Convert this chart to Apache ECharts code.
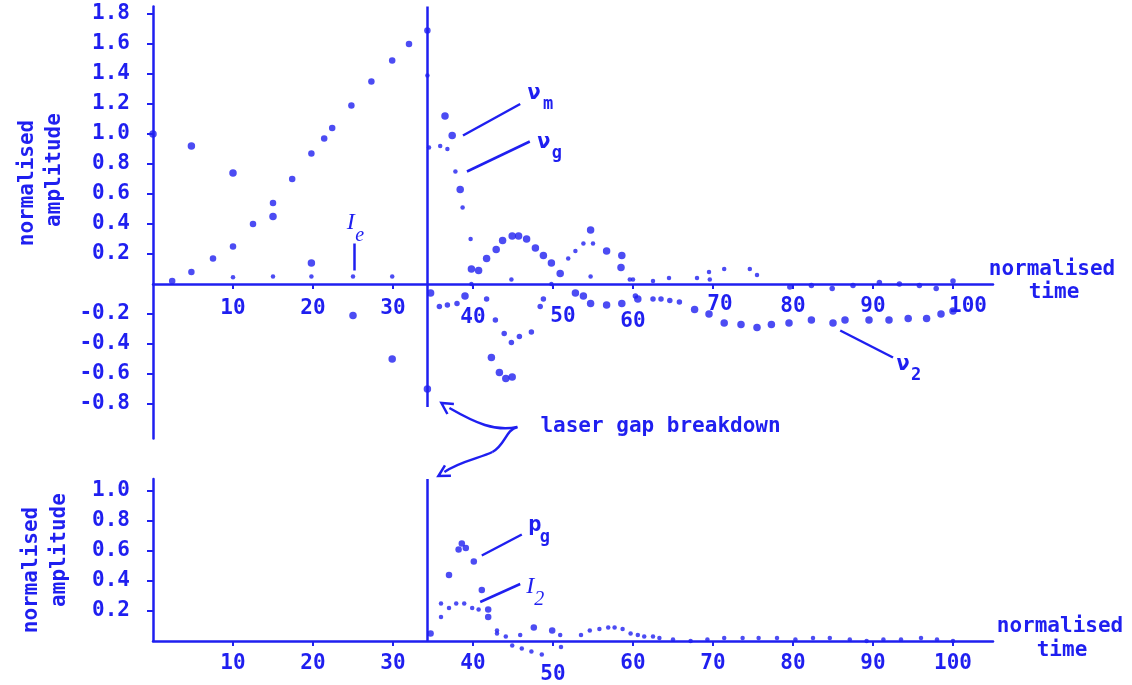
<!DOCTYPE html>
<html>
<head>
<meta charset="utf-8">
<script src="https://cdn.jsdelivr.net/npm/echarts@6/dist/echarts.min.js"></script>
<style>
html,body{margin:0;padding:0;background:#fff;}
#c{width:1132px;height:685px;}
</style>
</head>
<body>
<div id="c"></div>
<script>
// ---------------- DATA ----------------
const xTickValues = [10, 20, 30, 40, 50, 60, 70, 80, 90, 100];
const topYTickValues = [-0.8, -0.6, -0.4, -0.2, 0.2, 0.4, 0.6, 0.8, 1.0, 1.2, 1.4, 1.6, 1.8];
const botYTickValues = [0.2, 0.4, 0.6, 0.8, 1.0];
const breakdownTime = 34.3;

// top panel, before breakdown
const riseT = [2.4, 4.8, 7.5, 10, 12.5, 15, 17.4, 19.8, 21.4, 22.4, 24.8, 27.3, 29.9, 32, 34.3];
const riseV = [0.02, 0.08, 0.17, 0.25, 0.40, 0.54, 0.70, 0.87, 0.97, 1.04, 1.19, 1.35, 1.49, 1.60, 1.69];
const cosT = [0, 4.8, 10, 15, 19.8, 25, 29.9, 34.3];
const cosV = [1.0, 0.92, 0.74, 0.45, 0.14, -0.21, -0.50, -0.70];
const ieT = [10, 15, 19.8, 25, 29.9];
const ieV = [0.045, 0.05, 0.05, 0.05, 0.05];

// top panel, after breakdown
const upBigT = [36.5, 37.4, 38.4, 39.8, 40.7, 41.7, 42.9, 43.7, 44.9, 45.7, 46.7, 47.8, 48.8, 49.8, 50.9, 54.7, 56.7, 58.6, 58.5];
const upBigV = [1.12, 0.99, 0.63, 0.10, 0.09, 0.17, 0.23, 0.29, 0.32, 0.32, 0.30, 0.24, 0.19, 0.14, 0.07, 0.36, 0.22, 0.19, 0.11];
const upSmallT = [34.5, 35.9, 36.8, 37.8, 38.7, 39.7, 34.3, 51.9, 52.8, 53.8, 55.0, 59.6, 44.8, 54.7, 39.8, 49.8];
const upSmallV = [0.91, 0.92, 0.90, 0.75, 0.51, 0.30, 1.39, 0.17, 0.22, 0.27, 0.27, 0.03, 0.03, 0.05, 0.0, 0.0];
const lowBigT = [34.7, 39.0, 42.3, 43.3, 44.1, 44.9, 52.8, 53.8, 54.7, 56.7, 58.6, 60.6, 67.7, 69.5, 71.4, 73.5, 75.5, 77.3, 79.5, 82.3, 85, 86.5, 89.5, 92, 94.4, 96.7, 98.5, 100];
const lowBigV = [-0.06, -0.08, -0.49, -0.59, -0.63, -0.62, -0.06, -0.08, -0.13, -0.14, -0.13, -0.10, -0.17, -0.20, -0.26, -0.27, -0.29, -0.27, -0.26, -0.24, -0.26, -0.24, -0.24, -0.24, -0.23, -0.23, -0.20, -0.18];
const lowMedT = [35.8, 36.8, 38, 41.7, 42.8, 43.9, 44.8, 45.8, 47.3, 48.4, 48.8, 60.3, 62.5, 63.5, 64.6, 65.8];
const lowMedV = [-0.15, -0.14, -0.13, -0.10, -0.24, -0.33, -0.39, -0.35, -0.32, -0.15, -0.10, -0.08, -0.10, -0.10, -0.11, -0.12];
const posSmallT = [60, 62.5, 64.5, 68, 69.5, 69.6, 71.4, 74.6, 75.5];
const posSmallV = [0.03, 0.02, 0.04, 0.04, 0.08, 0.03, 0.10, 0.10, 0.06];
const baseT = [79.6, 82.3, 84.9, 87.5, 90.8, 93.3, 95.8, 97.9, 100];
const baseV = [-0.02, -0.01, -0.03, -0.01, 0.01, 0.0, -0.01, -0.03, 0.02];

// bottom panel
const pgT = [34.7, 37, 38.2, 38.6, 39.1, 40.1, 41.1, 41.9, 41.9, 47.6, 49.9];
const pgV = [0.05, 0.44, 0.61, 0.65, 0.62, 0.53, 0.34, 0.21, 0.16, 0.09, 0.07];
const i2T = [36, 36, 37, 37.9, 38.9, 39.9, 40.7, 43, 43, 44.1, 44.9, 45.9, 46.1, 47.3, 48.6, 50.9, 51, 53.5, 54.6, 55.8, 56.9, 57.7, 58.7, 59.7, 60.6, 61.4, 62.5];
const i2V = [0.25, 0.16, 0.22, 0.25, 0.25, 0.22, 0.21, 0.07, 0.05, 0.03, -0.03, 0.04, -0.05, -0.07, -0.09, 0.04, -0.04, 0.04, 0.07, 0.08, 0.09, 0.09, 0.08, 0.05, 0.04, 0.03, 0.03];
const tailT = [63.3, 65, 67.2, 69.3, 71.4, 73.7, 75.7, 78, 80.3, 82.5, 84.6, 87.1, 89.2, 91.3, 93.5, 96, 98, 100];
const tailV = [0.02, 0.01, 0.0, 0.01, 0.02, 0.02, 0.02, 0.02, 0.01, 0.02, 0.02, 0.01, 0.0, 0.01, 0.01, 0.02, 0.01, 0.0];

// ---------------- STYLE ----------------
const BLUE = '#1f1ff0';
const MONO = '"DejaVu Sans Mono", monospace';
const SERIF = '"Liberation Serif", "DejaVu Serif", serif';
const FS = 21;
const TOP_MIN = -1.03, TOP_MAX = 1.85;
const TOP_H = 432;

const chart = echarts.init(document.getElementById('c'), null, {renderer: 'canvas'});

function zip(T, V) { return T.map((t, i) => [t, V[i]]); }
function sc(gi, T, V, size, extra) {
  return Object.assign({
    type: 'scatter', xAxisIndex: gi, yAxisIndex: gi,
    data: zip(T, V), symbol: 'circle', symbolSize: size,
    itemStyle: {color: BLUE}, clip: false, silent: true,
    emphasis: {disabled: true}
  }, extra || {});
}
function tok(padTop, padLeft) {
  return {fontFamily: MONO, fontWeight: 'bold', fontSize: FS, color: BLUE,
          lineHeight: 22, padding: [padTop, 0, 0, padLeft || 0]};
}
const lineStyle = {color: BLUE, width: 2.5, type: 'solid'};
const mlBase = {silent: true, symbol: ['none', 'none'], label: {show: false},
                lineStyle: lineStyle, emphasis: {disabled: true}};

const topXCls = {10: 'a', 20: 'a', 30: 'a', 40: 'b', 50: 'c', 60: 'd', 70: 'f', 80: 'e', 90: 'e', 100: 'g'};
const botXCls = {10: 'a', 20: 'a', 30: 'a', 40: 'a', 50: 'c', 60: 'a', 70: 'a', 80: 'a', 90: 'a', 100: 'a'};

function xAxisDef(gi, cls, rich, offset) {
  return {
    gridIndex: gi, type: 'value', min: 0, max: 105, offset: offset,
    axisLine: {onZero: false, lineStyle: {color: BLUE, width: 2.5}},
    axisTick: {customValues: xTickValues, length: 5, lineStyle: {color: BLUE, width: 2}},
    axisLabel: {customValues: xTickValues, margin: 4,
                formatter: v => '{' + cls[v] + '|' + v + '}', rich: rich},
    splitLine: {show: false}
  };
}
function yAxisDef(gi, min, max, ticks) {
  return {
    gridIndex: gi, type: 'value', min: min, max: max,
    axisLine: {onZero: false, lineStyle: {color: BLUE, width: 2.5}},
    axisTick: {customValues: ticks, length: 6, lineStyle: {color: BLUE, width: 2}},
    axisLabel: {customValues: ticks, margin: 23, formatter: v => v.toFixed(1),
                fontFamily: MONO, fontWeight: 'bold', fontSize: FS, color: BLUE},
    splitLine: {show: false}
  };
}

// the top x axis sits on the zero line of the top panel
const topZeroOffset = -TOP_H * (0 - TOP_MIN) / (TOP_MAX - TOP_MIN);

const option = {
  animation: false,
  backgroundColor: '#ffffff',
  grid: [
    {left: 153, top: 6.5, width: 840, height: TOP_H},
    {left: 153, top: 479, width: 840, height: 163}
  ],
  xAxis: [
    xAxisDef(0, topXCls, {a: tok(20), b: tok(37), c: tok(35, 20), d: tok(46), e: tok(15), f: tok(12, 14), g: tok(15, 30)}, topZeroOffset),
    xAxisDef(1, botXCls, {a: tok(15), c: tok(37)}, 0)
  ],
  yAxis: [
    yAxisDef(0, TOP_MIN, TOP_MAX, topYTickValues),
    yAxisDef(1, 0, 1.08, botYTickValues)
  ],
  series: [
    sc(0, riseT, riseV, 6.5),
    sc(0, cosT, cosV, 7.5, {markLine: Object.assign({}, mlBase, {data: [
      [{coord: [breakdownTime, 1.85]}, {coord: [breakdownTime, -0.82]}],
      [{coord: [38.75, 0.99]}, {coord: [45.9, 1.20]}],
      [{coord: [39.25, 0.75]}, {coord: [47.1, 0.95]}],
      [{coord: [85.9, -0.31]}, {coord: [92.5, -0.49]}],
      [{coord: [25.1, 0.27]}, {coord: [25.1, 0.09]}]
    ]})}),
    sc(0, ieT, ieV, 4.5),
    sc(0, upBigT, upBigV, 7.5),
    sc(0, upSmallT, upSmallV, 4.5),
    sc(0, lowBigT, lowBigV, 7.5),
    sc(0, lowMedT, lowMedV, 5.5),
    sc(0, posSmallT, posSmallV, 4.5),
    sc(0, baseT, baseV, 5.5),
    sc(1, pgT, pgV, 6.5, {markLine: Object.assign({}, mlBase, {data: [
      [{coord: [breakdownTime, 1.08]}, {coord: [breakdownTime, 0]}],
      [{coord: [41.1, 0.57]}, {coord: [46.1, 0.71]}],
      [{coord: [40.9, 0.26]}, {coord: [45.9, 0.38]}]
    ]})}),
    sc(1, i2T, i2V, 4.5),
    sc(1, tailT, tailV, 4.5)
  ]
};
chart.setOption(option);

// ---------------- ANNOTATIONS ----------------
const P0 = p => chart.convertToPixel({gridIndex: 0}, p);
const P1 = p => chart.convertToPixel({gridIndex: 1}, p);

function txt(x, y, text, o) {
  o = o || {};
  return {
    type: 'text', x: x, y: y, rotation: o.rot || 0, silent: true, z: 10,
    style: {
      text: text, fill: BLUE,
      fontFamily: o.family || MONO, fontSize: o.size || FS,
      fontWeight: o.weight || 'bold', fontStyle: o.style || 'normal',
      align: o.align || 'center', verticalAlign: 'middle',
      textAlign: o.align || 'center', textVerticalAlign: 'middle'
    }
  };
}
function arrowHead(tip, from) {
  const dx = tip[0] - from[0], dy = tip[1] - from[1];
  const L = Math.hypot(dx, dy) || 1;
  const ux = dx / L, uy = dy / L, nx = -uy, ny = ux;
  const len = 11, w = 6;
  const bx = tip[0] - ux * len, by = tip[1] - uy * len;
  return {type: 'polyline', silent: true, z: 10,
          shape: {points: [[bx + nx * w, by + ny * w], tip, [bx - nx * w, by - ny * w]]},
          style: {stroke: BLUE, lineWidth: 2.5, fill: null}};
}
function curve(a, c1, c2, b) {
  return {type: 'bezierCurve', silent: true, z: 10,
          shape: {x1: a[0], y1: a[1], cpx1: c1[0], cpy1: c1[1], cpx2: c2[0], cpy2: c2[1], x2: b[0], y2: b[1]},
          style: {stroke: BLUE, lineWidth: 2.5, fill: null}};
}

const g = [];
// subscript labels at the ends of leader lines
const eM = P0([45.9, 1.20]);
g.push(txt(eM[0] + 14, eM[1] - 11, 'ν', {size: 22}), txt(eM[0] + 28, eM[1] + 1, 'm', {size: 17}));
const eG = P0([47.1, 0.95]);
g.push(txt(eG[0] + 14, eG[1] + 1, 'ν', {size: 22}), txt(eG[0] + 27, eG[1] + 12, 'g', {size: 17}));
const e2 = P0([92.5, -0.49]);
g.push(txt(e2[0] + 10, e2[1] + 7, 'ν', {size: 22}), txt(e2[0] + 23, e2[1] + 18, '2', {size: 17}));
const eI = P0([25.1, 0.27]);
g.push(txt(eI[0] - 3, eI[1] - 21, 'I', {family: SERIF, style: 'italic', weight: 'normal', size: 24}),
       txt(eI[0] + 6, eI[1] - 8, 'e', {family: SERIF, style: 'italic', weight: 'normal', size: 20}));
const eP = P1([46.1, 0.71]);
g.push(txt(eP[0] + 13, eP[1] - 9, 'p', {size: 22}), txt(eP[0] + 23, eP[1] + 3, 'g', {size: 17}));
const eI2 = P1([45.9, 0.38]);
g.push(txt(eI2[0] + 10, eI2[1] + 3, 'I', {family: SERIF, style: 'italic', weight: 'normal', size: 24}),
       txt(eI2[0] + 19, eI2[1] + 16, '2', {family: SERIF, style: 'italic', weight: 'normal', size: 20}));

// axis names
const endTop = P0([105, 0]);
const endBot = P1([105, 0]);
g.push(txt(endTop[0] + 59, endTop[1] - 14, 'normalised'), txt(endTop[0] + 61, endTop[1] + 9, 'time'));
g.push(txt(endBot[0] + 67, endBot[1] - 14, 'normalised'), txt(endBot[0] + 69, endBot[1] + 10, 'time'));
g.push(txt(28, 183, 'normalised', {rot: Math.PI / 2}), txt(55, 170, 'amplitude', {rot: Math.PI / 2}));
g.push(txt(32, 570, 'normalised', {rot: Math.PI / 2}), txt(60, 550, 'amplitude', {rot: Math.PI / 2}));

// "laser gap breakdown" with the brace-shaped arrows
const A = P0([breakdownTime, -0.82]);
const B = P1([breakdownTime, 1.08]);
const J = [A[0] + 90, A[1] + 20];
g.push(txt(J[0] + 23, J[1], 'laser gap breakdown', {align: 'left'}));
const upEnd = [A[0] + 22, A[1] + 1];
g.push(curve(J, [J[0] - 22, J[1] + 5], [J[0] - 42, J[1] - 4], upEnd));
g.push(arrowHead([A[0] + 14, A[1] - 4], [upEnd[0] + 6, upEnd[1] + 4]));
const mid = [J[0] - 25, J[1] + 25];
const loEnd = [B[0] + 17, B[1] - 7];
g.push(curve(J, [J[0] - 12, J[1] + 3], [J[0] - 12, J[1] + 18], mid));
g.push(curve(mid, [mid[0] - 12, mid[1] + 6], [mid[0] - 32, mid[1] + 9], loEnd));
g.push(arrowHead([B[0] + 11, B[1] - 3], [loEnd[0] + 8, loEnd[1] - 4]));

chart.setOption({graphic: g});
</script>
</body>
</html>
